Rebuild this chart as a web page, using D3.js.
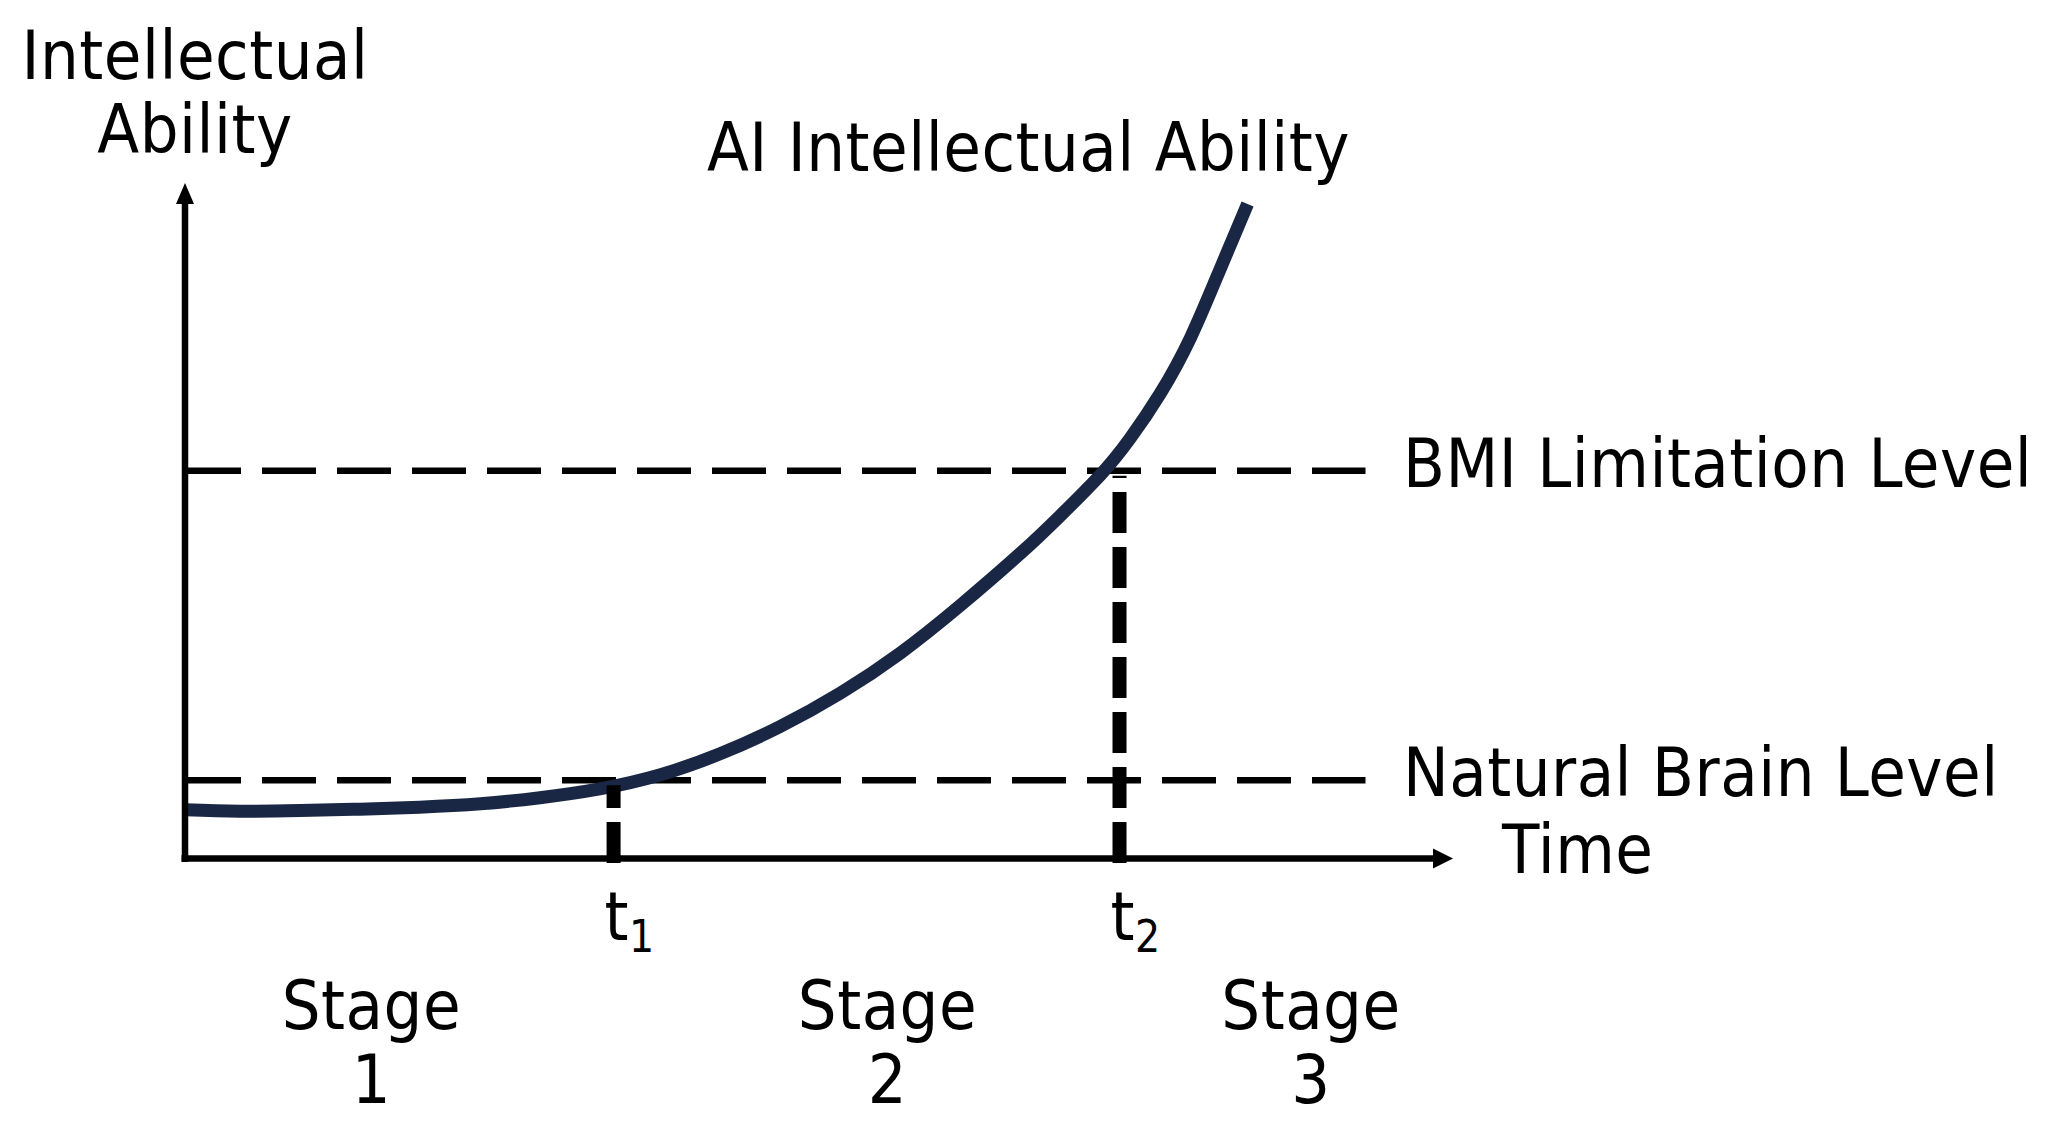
<!DOCTYPE html>
<html>
<head>
<meta charset="utf-8">
<script src="https://cdn.jsdelivr.net/npm/d3@7"></script>
<style>
  html, body { margin: 0; padding: 0; background: #fff; }
  text { font-family: "DejaVu Sans Condensed", "DejaVu Sans", sans-serif; font-stretch: condensed; fill: #000; letter-spacing: 0.5px; }
</style>
</head>
<body>
<svg></svg>
<script>
// AI ability curve (time 0-100, ability 0-100)
var curveTime    = [0, 4.3, 9.1, 13.8, 18.5, 23.3, 28.0, 32.7, 37.5, 42.2, 46.9, 51.7, 56.4, 61.1, 65.9, 69.0, 72.2, 74.5, 76.9, 79.3, 81.6, 83.8];
var curveAbility = [7.2, 7.0, 7.1, 7.3, 7.6, 8.1, 9.0, 10.3, 12.4, 15.5, 19.5, 24.5, 30.4, 37.4, 45.2, 50.7, 56.8, 62.1, 68.8, 77.1, 87.1, 96.9];

// reference levels
var levelNames  = ["Natural Brain Level", "BMI Limitation Level"];
var levelValues = [11.6, 57.4];
var levelEnd    = 93.1;

// crossing times t1, t2
var tickNames  = ["1", "2"];
var tickValues = [33.8, 73.7];

// stages under the time axis
var stageNames  = ["1", "2", "3"];
var stageCentre = [14.7, 55.4, 88.8];

start();

function start(){
  var width = 2052;
  var height = 1128;

  var svg = d3.select("svg")
              .attr("width", width)
              .attr("height", height);

  var x = d3.scaleLinear().domain([0, 100]).range([185, 1453]);
  var y = d3.scaleLinear().domain([0, 100]).range([858.5, 183]);

  // dashed level lines
  svg.selectAll("line.level")
     .data(levelValues)
     .enter()
     .append("line")
     .attr("class", "level")
     .attr("x1", x(0) + 2)
     .attr("x2", x(levelEnd))
     .attr("y1", function(d){ return y(d); })
     .attr("y2", function(d){ return y(d); })
     .attr("stroke", "#000")
     .attr("stroke-width", 6.5)
     .attr("stroke-dasharray", "54,21");

  svg.selectAll("text.level")
     .data(levelNames)
     .enter()
     .append("text")
     .attr("class", "level")
     .attr("x", 1403)
     .attr("y", function(d, i){ return y(levelValues[i]) + 16; })
     .attr("font-size", 68)
     .text(function(d){ return d; });

  // AI curve
  var points = curveTime.map(function(t, i){ return [t, curveAbility[i]]; });
  var line = d3.line()
               .x(function(d){ return x(d[0]); })
               .y(function(d){ return y(d[1]); })
               .curve(d3.curveNatural);

  svg.append("path")
     .datum(points)
     .attr("d", line)
     .attr("fill", "none")
     .attr("stroke", "#1a2744")
     .attr("stroke-width", 13);

  // thick dashed drops at t1, t2 (drawn bottom-up so the dash starts at the axis)
  svg.selectAll("line.drop")
     .data(tickValues)
     .enter()
     .append("line")
     .attr("class", "drop")
     .attr("x1", function(d){ return x(d); })
     .attr("x2", function(d){ return x(d); })
     .attr("y1", y(0) + 4.5)
     .attr("y2", function(d, i){ return y(levelValues[i]) + 5; })
     .attr("stroke", "#000")
     .attr("stroke-width", 14)
     .attr("stroke-dasharray", "41,14");

  var ticks = svg.selectAll("text.tick")
     .data(tickNames)
     .enter()
     .append("text")
     .attr("class", "tick")
     .attr("x", function(d, i){ return x(tickValues[i]) - 9; })
     .attr("y", 940)
     .attr("font-size", 68);
  ticks.append("tspan").text("t");
  ticks.append("tspan")
       .attr("font-size", 44)
       .attr("dy", 12)
       .text(function(d){ return d; });

  // axes
  svg.append("line")
     .attr("x1", x(0)).attr("x2", x(0))
     .attr("y1", y(0) + 3.5).attr("y2", y(100) + 18)
     .attr("stroke", "#000").attr("stroke-width", 6.5);
  svg.append("path")
     .attr("d", "M" + x(0) + "," + y(100) + "l-9,21h18z")
     .attr("fill", "#000");

  svg.append("line")
     .attr("x1", x(0) - 3.5).attr("x2", x(100) - 18)
     .attr("y1", y(0)).attr("y2", y(0))
     .attr("stroke", "#000").attr("stroke-width", 6.5);
  svg.append("path")
     .attr("d", "M" + x(100) + "," + y(0) + "l-20,-10v20z")
     .attr("fill", "#000");

  // axis titles
  var yTitle = svg.append("text")
                  .attr("text-anchor", "middle")
                  .attr("font-size", 68);
  yTitle.append("tspan").attr("x", 195).attr("y", 79).text("Intellectual");
  yTitle.append("tspan").attr("x", 195).attr("y", 153).text("Ability");

  svg.append("text")
     .attr("x", 1502)
     .attr("y", 873)
     .attr("font-size", 68)
     .text("Time");

  svg.append("text")
     .attr("x", 707)
     .attr("y", 171)
     .attr("font-size", 68)
     .text("AI Intellectual Ability");

  // stage labels
  var stages = svg.selectAll("text.stage")
     .data(stageNames)
     .enter()
     .append("text")
     .attr("class", "stage")
     .attr("text-anchor", "middle")
     .attr("font-size", 68);
  stages.append("tspan")
        .attr("x", function(d, i){ return x(stageCentre[i]); })
        .attr("y", 1029)
        .text("Stage");
  stages.append("tspan")
        .attr("x", function(d, i){ return x(stageCentre[i]); })
        .attr("y", 1103)
        .text(function(d){ return d; });
}
</script>
</body>
</html>
